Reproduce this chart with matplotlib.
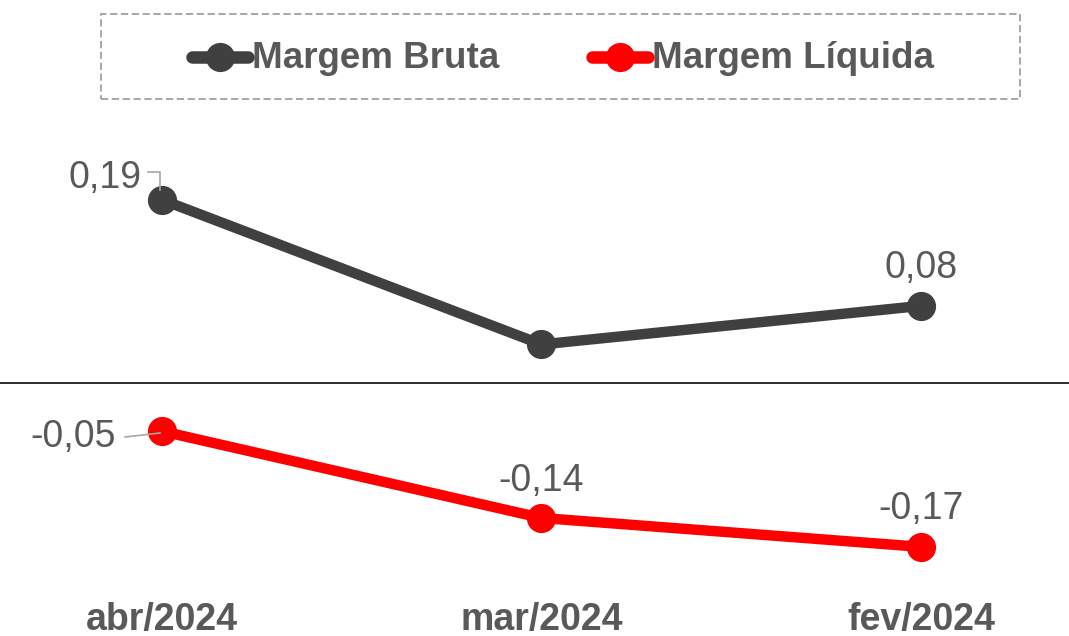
import matplotlib
matplotlib.use("Agg")
import matplotlib.pyplot as plt
from matplotlib.lines import Line2D
from matplotlib.patches import Rectangle

categories = ["abr/2024", "mar/2024", "fev/2024"]
series_names = ["Margem Bruta", "Margem Líquida"]
margem_bruta = [0.19, 0.04, 0.08]
margem_liquida = [-0.05, -0.14, -0.17]
labels_bruta = ["0,19", "", "0,08"]
labels_liquida = ["-0,05", "-0,14", "-0,17"]

W, H = 1069, 636
fig = plt.figure(figsize=(W / 100, H / 100), dpi=100)
ax = fig.add_axes([0, 0, 1, 1])
ax.set_axis_off()

x = list(range(len(categories)))
ax.set_xlim(-162 / 379.5, (W - 162) / 379.5)
ax.set_ylim(-(H - 383) / 964, 383 / 964)

dark = "#404040"
red = "#FF0000"
txt = "#595959"
bold_font = ["Liberation Sans", "DejaVu Sans"]
reg_font = ["Liberation Sans", "DejaVu Sans"]

ax.axhline(0, color="#1a1a1a", lw=1.3, zorder=1)
ax.plot(x, margem_bruta, color=dark, lw=7.5, marker="o", ms=20, zorder=3,
        solid_capstyle="round")
ax.plot(x, margem_liquida, color=red, lw=7.5, marker="o", ms=20, zorder=3,
        solid_capstyle="round")

offsets_b = [(-20, 22, "right"), None, (0, 38, "center")]
offsets_l = [(-46, -6, "right"), (0, 37, "center"), (0, 38, "center")]
for xi, v, lab, off in zip(x, margem_bruta, labels_bruta, offsets_b):
    if lab and off:
        ax.annotate(lab, (xi, v), xytext=off[:2], textcoords="offset pixels",
                    ha=off[2], va="center", fontsize=27, color=txt,
                    family=reg_font, zorder=5)
for xi, v, lab, off in zip(x, margem_liquida, labels_liquida, offsets_l):
    ax.annotate(lab, (xi, v), xytext=off[:2], textcoords="offset pixels",
                ha=off[2], va="center", fontsize=27, color=txt,
                family=reg_font, zorder=5)


def pix(px, py):
    return (px / W, 1 - py / H)


# leader lines
fig.add_artist(Line2D([148 / W, 160 / W, 160 / W],
                      [1 - 172 / H, 1 - 172 / H, 1 - 190 / H],
                      color="#a6a6a6", lw=1.2, zorder=2))
fig.add_artist(Line2D([125 / W, 160 / W], [1 - 437 / H, 1 - 433 / H],
                      color="#a6a6a6", lw=1.2, zorder=2))

# category labels
for xi, c in zip(x, categories):
    ax.text(xi, -(620 - 383) / 964, c, ha="center", va="center",
            fontsize=27, fontweight="bold", color=txt, family=bold_font)

# legend box (dashed)
fig.add_artist(Rectangle((101 / W, 1 - 99 / H), (1020 - 101) / W, 85 / H,
                         transform=fig.transFigure, fill=False,
                         edgecolor="#a0a0a0", lw=1.3, ls=(0, (4, 2))))
# legend entries
leg_items = [(series_names[0], dark, 192, 248), (series_names[1], red, 592, 648)]
ly = 1 - 57 / H
for name, col, x0, x1 in leg_items:
    fig.add_artist(Line2D([x0 / W, x1 / W], [ly, ly], color=col, lw=9,
                          solid_capstyle="round", zorder=4))
    fig.add_artist(Line2D([(x0 + x1) / 2 / W], [ly], color=col, marker="o",
                          ms=20, lw=0, zorder=5))
    fig.text((x1 + 4) / W, ly - 1 / H, name, ha="left", va="center",
             fontsize=26.5, fontweight="bold", color=txt, family=bold_font)

fig.savefig("out.png", dpi=100)
